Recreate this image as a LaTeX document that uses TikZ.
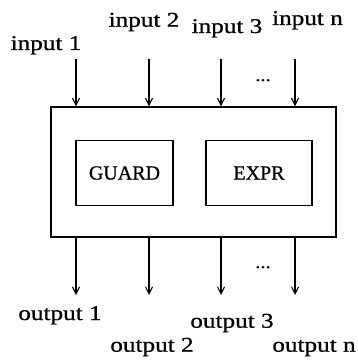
\documentclass[tikz,border=0pt]{standalone}
\usepackage{fontspec}
\setmainfont{Liberation Serif}
\newfontfamily\widefont[FakeStretch=1.2,FakeBold=0.8]{Liberation Serif}
\newfontfamily\boxfont[FakeBold=0.8]{Liberation Serif}
\usetikzlibrary{arrows.meta}
\begin{document}
\begin{tikzpicture}[x=1pt,y=-1pt,
  lbl/.style={anchor=base,inner sep=0pt,font=\widefont\fontsize{21}{21}\selectfont},
  inlbl/.style={font=\boxfont\fontsize{20}{20}\selectfont},
  blk/.style={draw,line width=1.3pt,inner sep=0pt},
  flow/.style={line width=1.1pt,-{Straight Barb[length=7pt,width=7pt,line width=1.1pt]}},
  dots/.style={anchor=base,inner sep=0pt,font=\widefont\fontsize{17}{17}\selectfont}]
\useasboundingbox (0,0) rectangle (357,361);
% outer unit and its two parts
\node[blk,minimum width=285pt,minimum height=130pt] (unit) at (193.5,172) {};
\node[blk,minimum width=97pt,minimum height=65pt,inlbl] (guard) at (124.5,173) {GUARD};
\node[blk,minimum width=106pt,minimum height=65pt,inlbl] (expr) at (259,173) {EXPR};
% input labels
\node[lbl] (in1) at (46,50) {input 1};
\node[lbl] (in2) at (144,26.7) {input 2};
\node[lbl] (in3) at (227,33) {input 3};
\node[lbl] (inn) at (307.5,25) {input n};
% output labels
\node[lbl] (out1) at (60,320) {output 1};
\node[lbl] (out2) at (152,351.7) {output 2};
\node[lbl] (out3) at (232,327.7) {output 3};
\node[lbl] (outn) at (314,351.7) {output n};
\node[dots] (idots) at (263,81) {...};
\node[dots] (odots) at (263,268) {...};
% arrow ends
\coordinate (a1) at (76,59);
\coordinate (a2) at (149,59);
\coordinate (a3) at (221,59);
\coordinate (a4) at (295,59);
\coordinate (b1) at (76,295);
\coordinate (b2) at (149,295);
\coordinate (b3) at (221,295);
\coordinate (b4) at (295,295);
\foreach \k in {1,2,3,4}{
  \draw[flow] (a\k) -- (a\k |- unit.north);
  \draw[flow] (a\k |- unit.south) -- (b\k);
}
\end{tikzpicture}
\end{document}
